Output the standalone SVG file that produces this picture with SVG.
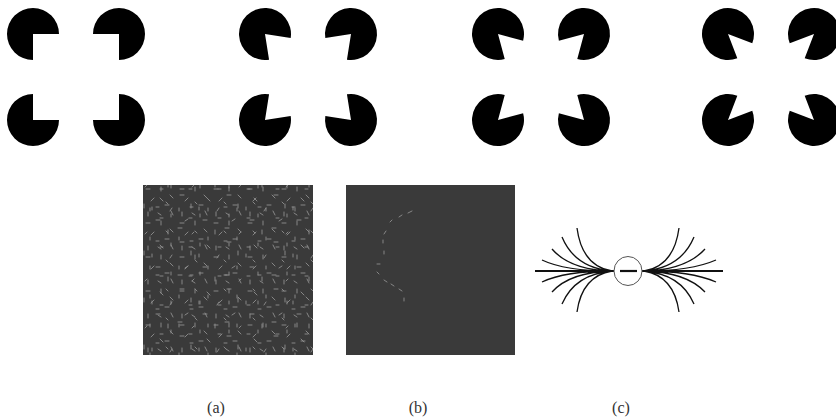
<svg xmlns="http://www.w3.org/2000/svg" width="836" height="419" viewBox="0 0 836 419">
<style>
.pm{fill:#000}
.tex{stroke:#8e8e8e;stroke-width:0.9;stroke-linecap:round;fill:none}
.fan{stroke:#111;stroke-width:1.3;fill:none}
.lbl{font-family:"Liberation Serif","DejaVu Serif",serif;font-size:16px;fill:#333;text-anchor:middle}
</style>
<defs>
<path id="p90" class="pm" d="M0,0 L18.385,18.385 A26,26 0 1 1 18.385,-18.385 Z"/>
<path id="p72" class="pm" d="M0,0 L21.03,15.28 A26,26 0 1 1 21.03,-15.28 Z"/>
<path id="p60" class="pm" d="M0,0 L22.52,13 A26,26 0 1 1 22.52,-13 Z"/>
<path id="p48" class="pm" d="M0,0 L23.75,10.57 A26,26 0 1 1 23.75,-10.57 Z"/>
<pattern id="t1" patternUnits="userSpaceOnUse" x="143" y="185" width="34" height="34">
<path class="tex" d="M3,4h4M18,2v4M27,10l3,3M8,16l3,-3M22,20h4M5,27v4M15,28l3,2M28,26l2,4M13,22h3"/>
</pattern>
<pattern id="t2" patternUnits="userSpaceOnUse" x="150" y="190" width="47" height="47">
<path class="tex" d="M10,8l3,3M30,5h4M41,14v4M22,18l-2,3M6,30h4M35,31l3,-2M18,40v4M28,38h4M44,42l-2,2M2,17v3"/>
</pattern>
<pattern id="t3" patternUnits="userSpaceOnUse" x="146" y="196" width="29" height="29">
<path class="tex" d="M4,12v3M20,6l2,2M14,22h3M25,18v3"/>
</pattern>
</defs>

<g id="set1">
<use href="#p90" transform="translate(33,34) rotate(45)"/>
<use href="#p90" transform="translate(119,34) rotate(135)"/>
<use href="#p90" transform="translate(33,120) rotate(-45)"/>
<use href="#p90" transform="translate(119,120) rotate(-135)"/>
</g>
<g id="set2">
<use href="#p72" transform="translate(265,34) rotate(45)"/>
<use href="#p72" transform="translate(351,34) rotate(135)"/>
<use href="#p72" transform="translate(265,120) rotate(-45)"/>
<use href="#p72" transform="translate(351,120) rotate(-135)"/>
</g>
<g id="set3">
<use href="#p60" transform="translate(498,34) rotate(45)"/>
<use href="#p60" transform="translate(584,34) rotate(135)"/>
<use href="#p60" transform="translate(498,120) rotate(-45)"/>
<use href="#p60" transform="translate(584,120) rotate(-135)"/>
</g>
<g id="set4">
<use href="#p48" transform="translate(728,34) rotate(45)"/>
<use href="#p48" transform="translate(814,34) rotate(135)"/>
<use href="#p48" transform="translate(728,120) rotate(-45)"/>
<use href="#p48" transform="translate(814,120) rotate(-135)"/>
</g>

<g id="panel-a">
<rect x="143" y="185" width="170" height="170" fill="#3a3a3a"/>
<rect x="143" y="185" width="170" height="170" fill="url(#t1)"/>
<rect x="143" y="185" width="170" height="170" fill="url(#t2)"/>
<rect x="143" y="185" width="170" height="170" fill="url(#t3)"/>
</g>

<g id="panel-b">
<rect x="346" y="185" width="169" height="170" fill="#3a3a3a"/>
<path class="tex" d="M408,213l4,-2M399,217l3,-2M390,222l2,-2M386,231l-2,3M383,240v3M384,251v3M377,264h3M377,272l2,2M384,280l3,2M391,284l3,2M399,289l3,2M404,298v3"/>
</g>

<g id="panel-c">
<path fill="none" stroke="#111" stroke-width="2" d="M535,271H614M642,271H723"/>
<ellipse cx="628" cy="271" rx="14" ry="14.5" fill="none" stroke="#555" stroke-width="1"/>
<path stroke="#111" stroke-width="2.2" d="M620,271H637"/>
<path class="fan" d="M612,271Q582,266 577,228M612,271Q575,268 562,237M612,271Q570,270 552,249M612,271Q565,271 542,260M612,271Q582,276 577,312M612,271Q575,274 562,304M612,271Q570,272 552,292M612,271Q565,271 542,282"/>
<path class="fan" d="M644,271Q674,266 679,228M644,271Q681,268 694,237M644,271Q686,270 705,249M644,271Q691,271 716,260M644,271Q674,276 679,312M644,271Q681,274 694,304M644,271Q686,272 705,292M644,271Q691,271 716,282"/>
</g>

<g id="labels">
<text class="lbl" x="216" y="413">(a)</text>
<text class="lbl" x="418" y="413">(b)</text>
<text class="lbl" x="621" y="413">(c)</text>
</g>
</svg>
